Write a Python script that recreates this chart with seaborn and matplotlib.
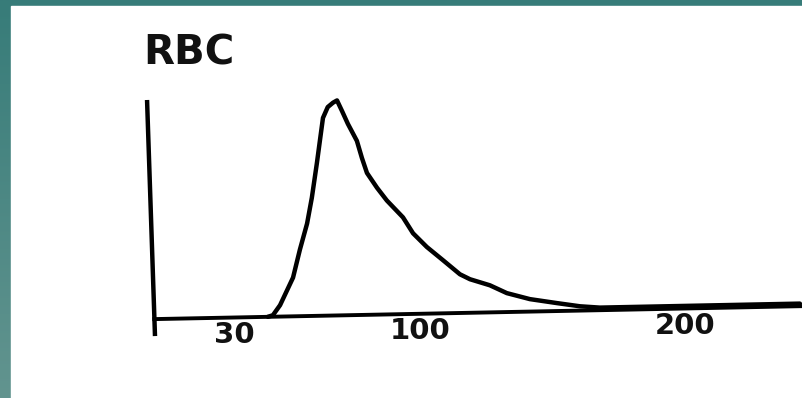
import numpy as np
import pandas as pd
import matplotlib
matplotlib.use("Agg")
import matplotlib.pyplot as plt
import seaborn as sns

# RBC volume histogram (fL vs relative count)
volume_fl = [42.6, 44.5, 47.2, 52.1, 54.7, 57.4, 59.2, 61.1, 62.3, 63.4,
             65.2, 67.2, 68.7, 70.6, 72.8, 76.2, 78.1, 80.0, 83.8, 87.5,
             93.6, 97.4, 102.6, 108.7, 115.1, 118.9, 126.4, 132.8, 141.5,
             151.7, 160.4, 167.9, 200.0, 243.4]
count = [0.0, 0.7, 5.3, 18, 31, 43, 55, 71, 82, 92,
         97, 99, 100, 95, 89, 81, 73, 66, 59, 53,
         45, 37.5, 31, 24.7, 18, 15.6, 12.6, 8.8, 5.8,
         3.7, 2.0, 1.2, 1.2, 1.2]
tick_values = [30, 100, 200]
tick_labels = ["30", "100", "200"]
title = "RBC"

# the scanned printout is slightly tilted
tilt = 0.02465

df = pd.DataFrame({"fL": volume_fl, "count": count})
df["y"] = df["count"] + tilt * df["fL"]

sns.set_style("white")
fig = plt.figure(figsize=(8.02, 3.98), dpi=100)

# teal slide frame with gradient on the left strip
bg = fig.add_axes([0, 0, 1, 1])
grad = np.linspace(0, 1, 256).reshape(-1, 1)
cmap = matplotlib.colors.LinearSegmentedColormap.from_list("teal", ["#377c79", "#62948f"])
bg.imshow(grad, aspect="auto", cmap=cmap, extent=[0, 1, 0, 1], origin="upper")
bg.add_patch(plt.Rectangle((11 / 802, 0), 1, 1 - 6 / 398, color="white", zorder=2))
bg.set_xlim(0, 1)
bg.set_ylim(0, 1)
bg.axis("off")

ax = fig.add_axes([0, 0, 1, 1])
ax.patch.set_alpha(0)

# baseline and vertical axis
ax.plot([-1, 244.5], [-tilt, tilt * 244.5], color="black", lw=2.8, solid_capstyle="butt")
ax.plot([-3.0, 0.0], [101.9, -7.9], color="black", lw=3.2, solid_capstyle="butt")

sns.lineplot(data=df, x="fL", y="y", color="black", lw=3.2, ax=ax, sort=False)

for v, lab in zip(tick_values, tick_labels):
    ax.text(v, -8 + tilt * v, lab, ha="center", va="center", fontsize=21,
            fontweight="bold", family="DejaVu Sans", color="#111111")

ax.text(-4.5, 123.5, title, ha="left", va="center", fontsize=29,
        fontweight="bold", family="DejaVu Sans", color="#111111")

ax.set_xlim(-58.5, 244.2)
ax.set_ylim(-36.7, 148.4)
ax.axis("off")

fig.savefig("out.png", dpi=100)
